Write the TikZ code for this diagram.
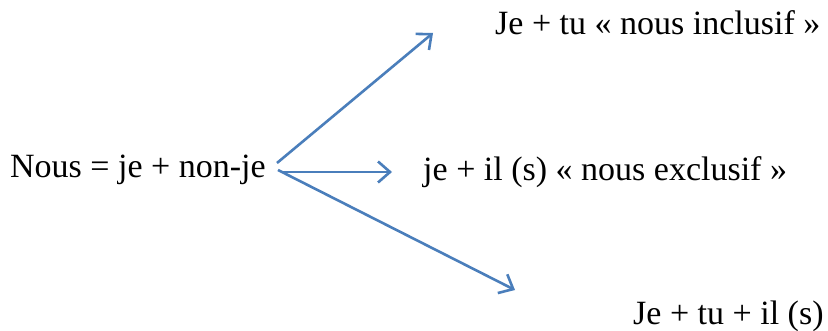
\documentclass[tikz,border=0pt]{standalone}
\usepackage{fontspec}
\setmainfont{Liberation Serif}
\usetikzlibrary{arrows.meta}
\definecolor{arrowblue}{HTML}{4A7EBB}
\tikzset{
  lbl/.style={anchor=base west, inner sep=0pt, font=\fontsize{34}{40}\selectfont},
  conn/.style={draw=arrowblue, line width=2.6pt, -{Straight Barb[length=12pt,width=21pt,line width=2.6pt]}}
}
\begin{document}
\begin{tikzpicture}[x=1pt,y=-1pt]
\useasboundingbox (0,0) rectangle (828,331);
\node[lbl] (nous) at (10,178) {Nous = je + non-je};
\node[lbl] (incl) at (495,35) {Je + tu « nous inclusif »};
\node[lbl] (excl) at (423,181) {je + il (s) « nous exclusif »};
\node[lbl] (all) at (633,325) {Je + tu + il (s)};
\coordinate (s1) at (277,163);
\coordinate (s2) at (282,172);
\coordinate (s3) at (278,170);
\coordinate (e1) at (433,33);
\coordinate (e2) at (392,172);
\coordinate (e3) at (515,290);
\draw[conn] (s1) -- (e1);
\draw[conn] (s2) -- (e2);
\draw[conn] (s3) -- (e3);
\end{tikzpicture}
\end{document}
